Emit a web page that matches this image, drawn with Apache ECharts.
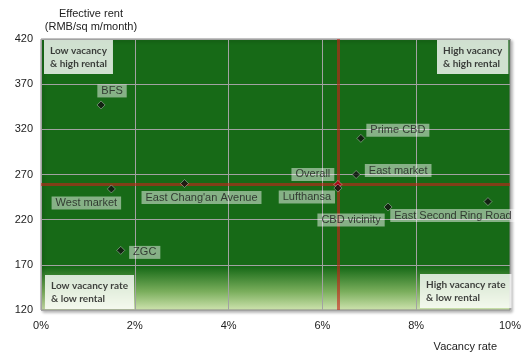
<!DOCTYPE html>
<html>
<head>
<meta charset="utf-8">
<script src="https://cdn.jsdelivr.net/npm/echarts@6/dist/echarts.min.js"></script>
<style>html,body{margin:0;padding:0;background:#fff}#c{width:526px;height:352px}</style>
</head>
<body>
<div id="c"></div>
<script>
// Data
const names = ['BFS','Prime CBD','East market','Overall','Lufthansa','CBD vicinity','East Second Ring Road','West market',"East Chang'an Avenue",'ZGC'];
const vacancy = [1.28, 6.82, 6.72, 6.33, 6.33, 7.40, 9.53, 1.50, 3.06, 1.70];
const rent = [347, 310, 270, 259, 255, 234, 240, 254, 260, 186];
const overallVacancy = 6.33;
const overallRent = 259.4;
const xTicks = [0, 2, 4, 6, 8, 10];
const yTicks = [120, 170, 220, 270, 320, 370, 420];
const quadrantText = ['Low vacancy\n& high rental', 'High vacancy\n& high rental', 'Low vacancy rate\n& low rental', 'High vacancy rate\n& low rental'];

// Label placement (style only)
const labelOffsets = {
  'BFS': [11, -14], 'Prime CBD': [37, -8], 'East market': [42, -4], 'Overall': [-25, -10],
  'Lufthansa': [-31, 9], 'CBD vicinity': [-37, 13], 'East Second Ring Road': [-35, 14],
  'West market': [-25, 14], "East Chang'an Avenue": [17, 14], 'ZGC': [24, 2]
};

const pts = names.map((n, i) => ({
  name: n,
  value: [vacancy[i], rent[i]],
  itemStyle: n === 'Overall' ? { color: '#b00018' } : undefined,
  label: { offset: labelOffsets[n] }
}));

const qAnchors = [
  { v: [xTicks[0], yTicks[yTicks.length-1]], va: 'top', off: [3, 1] },
  { v: [xTicks[xTicks.length-1], yTicks[yTicks.length-1]], va: 'top', off: [-73, 1] },
  { v: [xTicks[0], yTicks[0]], va: 'bottom', off: [4, -1] },
  { v: [xTicks[xTicks.length-1], yTicks[0]], va: 'bottom', off: [-90, -2] }
];
const qData = quadrantText.map((t, i) => ({
  value: qAnchors[i].v,
  label: { formatter: t, align: 'left', verticalAlign: qAnchors[i].va, offset: qAnchors[i].off }
}));

const chart = echarts.init(document.getElementById('c'), null, { renderer: 'canvas' });
chart.setOption({
  animation: false,
  title: [{
    text: 'Vacancy rate', right: 24, top: 336,
    textStyle: { fontSize: 11, fontWeight: 'normal', color: '#222', fontFamily: 'Liberation Sans' }
  }],
  grid: {
    left: 41, right: 16, top: 39, bottom: 42, show: true,
    outerBoundsMode: 'none', containLabel: false,
    borderColor: '#8a8a8a', borderWidth: 1,
    shadowColor: 'rgba(0,0,0,0.3)', shadowBlur: 3, shadowOffsetX: 2, shadowOffsetY: 2,
    backgroundColor: new echarts.graphic.LinearGradient(0, 0, 0, 1, [
      { offset: 0, color: '#176a17' },
      { offset: 0.84, color: '#176a17' },
      { offset: 0.93, color: '#7aae5c' },
      { offset: 1, color: '#d0e4b0' }
    ])
  },
  xAxis: {
    type: 'value', min: 0, max: 10, interval: 2,
    axisLine: { show: false }, axisTick: { show: false },
    axisLabel: { formatter: v => v + '%', margin: 10, fontSize: 11, color: '#222', fontFamily: 'Liberation Sans' },
    splitLine: { show: true, lineStyle: { color: '#a2a2a2', width: 1 } }
  },
  yAxis: {
    type: 'value', min: 120, max: 420, interval: 50,
    name: 'Effective rent\n(RMB/sq m/month)', nameLocation: 'end', nameGap: 6,
    nameTextStyle: { align: 'center', padding: [0, 0, 0, 100], fontSize: 11, color: '#222', lineHeight: 13, fontFamily: 'Liberation Sans' },
    axisLine: { show: false }, axisTick: { show: false },
    axisLabel: { margin: 8, fontSize: 11, color: '#222', fontFamily: 'Liberation Sans' },
    splitLine: { show: true, lineStyle: { color: '#a2a2a2', width: 1 } }
  },
  series: [
    {
      type: 'scatter', name: 'markets', data: pts,
      symbol: 'diamond', symbolSize: 8,
      itemStyle: { color: '#111', borderColor: 'rgba(255,255,255,0.45)', borderWidth: 1 },
      label: {
        show: true, position: 'inside', formatter: '{b}',
        fontSize: 11, color: '#1a1a1a', fontFamily: 'Liberation Sans',
        backgroundColor: 'rgba(255,255,255,0.6)', padding: [1, 4, 1, 4]
      },
      markLine: {
        silent: true, symbol: 'none', animation: false,
        lineStyle: { color: 'rgba(200,35,25,0.6)', width: 3, type: 'solid' },
        label: { show: false },
        data: [{ xAxis: overallVacancy }, { yAxis: overallRent }]
      },
      z: 5
    },
    {
      type: 'scatter', name: 'quadrants', data: qData,
      symbolSize: 0, silent: true,
      label: {
        show: true, position: 'inside',
        fontSize: 10, fontWeight: 'bold', color: '#111', fontFamily: 'Lato',
        lineHeight: 13, backgroundColor: '#ffffff', padding: [4, 6, 4, 6]
      },
      z: 6
    }
  ]
});
</script>
</body>
</html>
